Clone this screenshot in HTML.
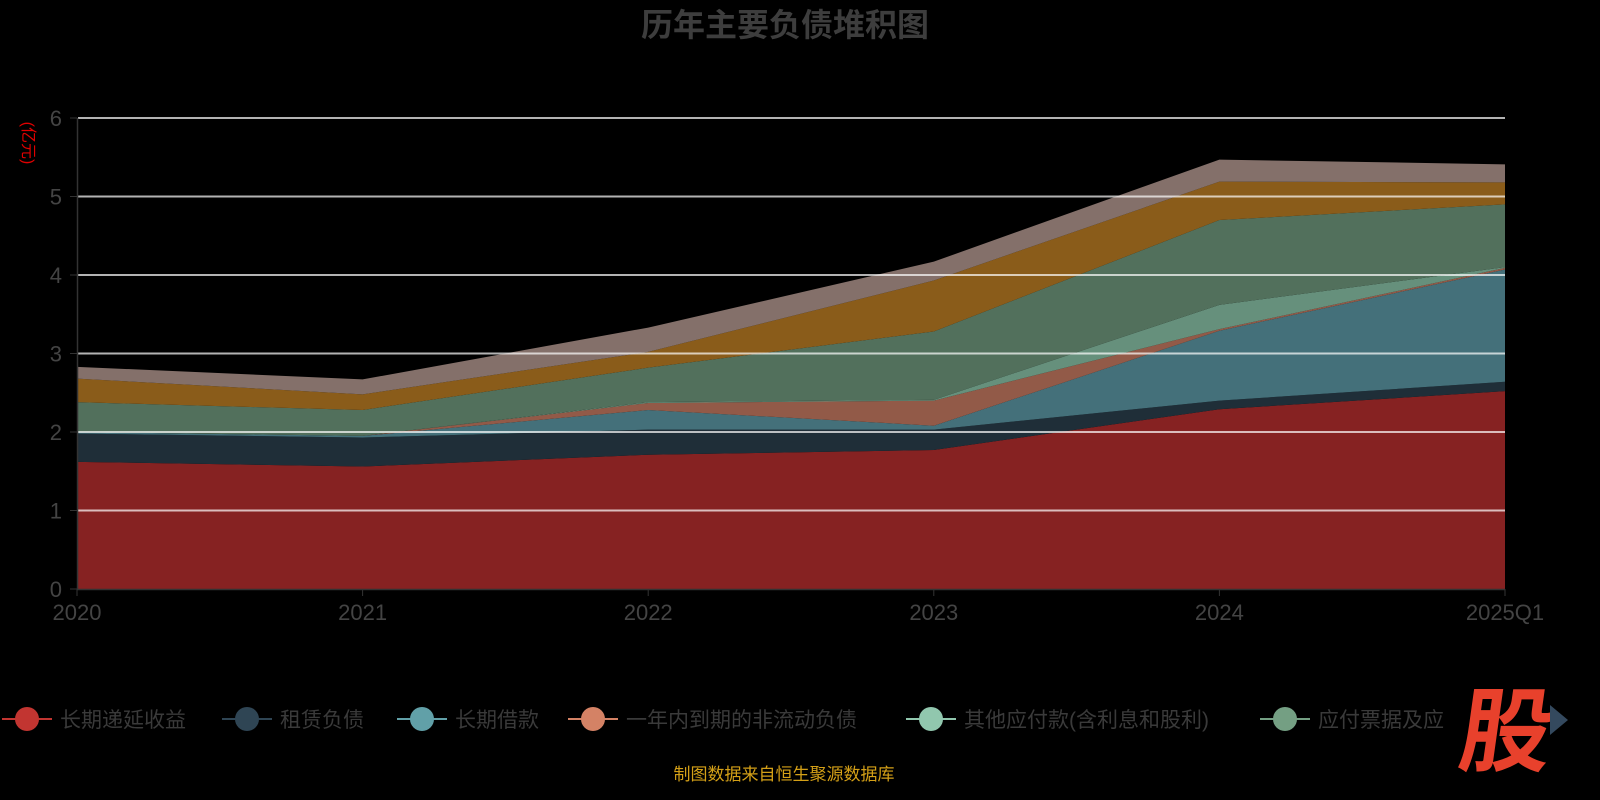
<!DOCTYPE html>
<html><head><meta charset="utf-8"><style>
html,body{margin:0;padding:0;background:#000;width:1600px;height:800px;overflow:hidden}
svg{display:block}
text{font-family:"Liberation Sans","Noto Sans CJK SC",sans-serif}
</style></head><body>
<svg id="s" width="1600" height="800" xmlns="http://www.w3.org/2000/svg">
<text x="785" y="36" text-anchor="middle" font-size="32" font-weight="bold" fill="#3d3d3d">历年主要负债堆积图</text>
<text transform="translate(23,143) rotate(90)" text-anchor="middle" font-size="16" fill="#e00000">(亿元)</text>
<g id="areas"></g>
<g id="grid"></g>
<line x1="77.5" y1="118" x2="77.5" y2="589" stroke="#333" stroke-width="1.5"/>
<line x1="77" y1="589.5" x2="1505" y2="589.5" stroke="#333" stroke-width="1.5"/>
<g id="labels" font-size="22" fill="#444"></g>
<g id="legend" font-size="21" fill="#3a3a3a"></g>
<text x="784" y="780" text-anchor="middle" font-size="17" fill="#d4a017">制图数据来自恒生聚源数据库</text>
<text x="0" y="0" transform="translate(1502,764) skewX(-8)" text-anchor="middle" font-size="92" font-weight="bold" fill="#e8412c">股</text>
<polygon points="1550,705 1568,720 1550,735" fill="#34495e"/>
</svg>
<script>
var xs=[77,362.6,648.2,933.8,1219.4,1505];
var y=v=>589-78.5*v;
var tops=[
[1.62,1.56,1.71,1.77,2.29,2.52],
[1.98,1.93,2.03,2.03,2.40,2.64],
[2.0,1.95,2.28,2.08,3.29,4.07],
[2.0,1.95,2.37,2.40,3.31,4.09],
[2.0,1.95,2.38,2.41,3.62,4.10],
[2.38,2.28,2.82,3.28,4.70,4.90],
[2.68,2.48,3.02,3.93,5.19,5.18],
[2.83,2.67,3.33,4.17,5.47,5.41]];
var cols=["#862222","#1f2e38","#44707a","#925a48","#66907c","#52705c","#8a5c1a","#84706a"];
var ns="http://www.w3.org/2000/svg",A=document.getElementById("areas");
function el(t,a,p){var e=document.createElementNS(ns,t);for(var k in a)e.setAttribute(k,a[k]);p.appendChild(e);return e;}
for(var i=0;i<8;i++){var d="M";for(var j=0;j<6;j++)d+=xs[j]+","+y(tops[i][j])+" L";
for(var j=5;j>=0;j--)d+=xs[j]+","+(i?y(tops[i-1][j]):589)+(j?" L":" Z");
el("path",{d:d,fill:cols[i]},A);}
var G=document.getElementById("grid"),L=document.getElementById("labels");
for(var v=0;v<=6;v++){if(v>0)el("line",{x1:78,x2:1505,y1:y(v),y2:y(v),stroke:"#fff","stroke-opacity":0.7,"stroke-width":2},G);
el("line",{x1:70,x2:77,y1:y(v),y2:y(v),stroke:"#333"},G);
var t=el("text",{x:62,y:y(v)+8,"text-anchor":"end"},L);t.textContent=v;}
var xl=["2020","2021","2022","2023","2024","2025Q1"];
for(var j=0;j<6;j++){el("line",{x1:xs[j],x2:xs[j],y1:589,y2:596,stroke:"#333"},G);
var t=el("text",{x:xs[j],y:620,"text-anchor":"middle"},L);t.textContent=xl[j];}
var lg=[["长期递延收益","#c23531",2],["租赁负债","#2f4554",222],["长期借款","#61a0a8",397],["一年内到期的非流动负债","#d48265",568],["其他应付款(含利息和股利)","#91c7ae",906],["应付票据及应","#749f83",1260]];
var Lg=document.getElementById("legend");
lg.forEach(function(o){var x=o[2];el("line",{x1:x,x2:x+50,y1:719,y2:719,stroke:o[1],"stroke-width":2},Lg);
el("circle",{cx:x+25,cy:719,r:12,fill:o[1]},Lg);var t=el("text",{x:x+58,y:727},Lg);t.textContent=o[0];});
</script>
</body></html>
